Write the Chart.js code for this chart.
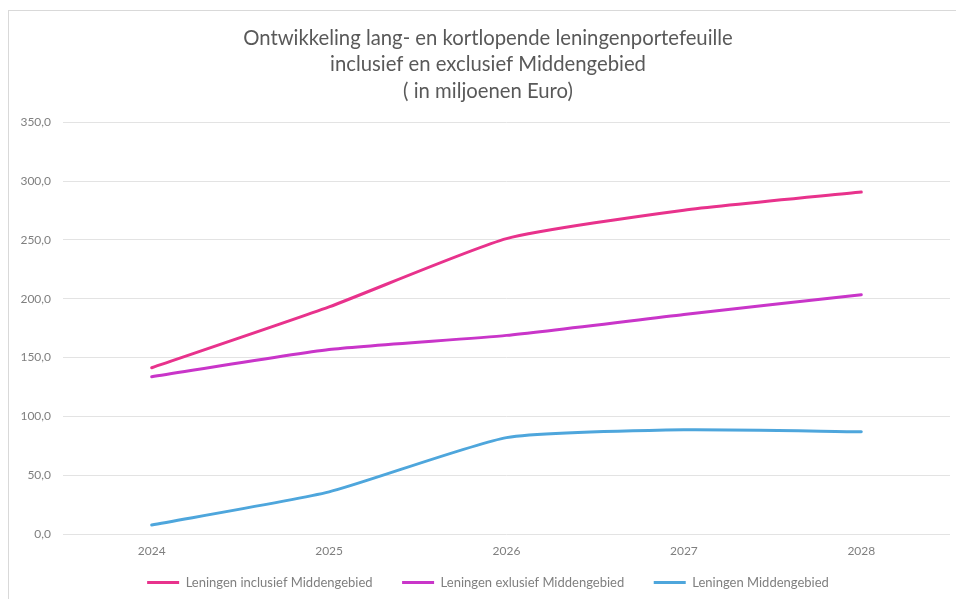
<!DOCTYPE html>
<html>
<head>
<meta charset="utf-8">
<script src="https://cdn.jsdelivr.net/npm/chart.js@4"></script>
<style>
    html, body { margin: 0; padding: 0; background: #fff; overflow: hidden; }
    #frame {
        position: absolute; left: 8px; top: 10px;
        width: 970px; height: 600px;
        border: 1px solid #d9d9d9;
    }
    #chart { display: block; }
</style>
</head>
<body>
<div id="frame"><canvas id="chart" width="958" height="588"></canvas></div>
<script>
    // Gegevens (in miljoenen Euro)
    const years = ['2024', '2025', '2026', '2027', '2028'];
    const inclusief = [141.3, 193.0, 251.0, 275.2, 290.6];
    const exclusief = [133.6, 156.8, 168.8, 186.6, 203.4];
    const middengebied = [7.7, 35.8, 81.9, 88.6, 86.9];
    const titleLines = [
        'Ontwikkeling lang- en kortlopende leningenportefeuille',
        'inclusief en exclusief Middengebied',
        '( in miljoenen Euro)'
    ];

    const textColor = '#7f7f7f';
    const gridColor = '#e3e3e3';
    const fontFamily = 'Lato, "Open Sans", sans-serif';

    const lineDataset = (label, data, color) => ({
        label,
        data,
        borderColor: color,
        backgroundColor: color,
        borderWidth: 3,
        pointRadius: 0,
        tension: 0.18,
        borderCapStyle: 'round',
        yAxisID: 'y'
    });

    const ctx = document.getElementById('chart').getContext('2d');
    new Chart(ctx, {
        type: 'line',
        data: {
            labels: years,
            datasets: [
                lineDataset('Leningen inclusief Middengebied', inclusief, '#e8328c'),
                lineDataset('Leningen exlusief Middengebied', exclusief, '#c935c9'),
                lineDataset('Leningen Middengebied', middengebied, '#4ea6dc')
            ]
        },
        options: {
            responsive: false,
            animation: false,
            layout: { padding: 0 },
            plugins: {
                title: {
                    display: true,
                    text: titleLines,
                    color: '#595959',
                    font: { family: fontFamily, size: 20.3, weight: 'normal', lineHeight: 1.3 },
                    padding: { top: 14, bottom: 18 }
                },
                legend: {
                    position: 'bottom',
                    labels: {
                        color: textColor,
                        font: { family: fontFamily, size: 13 },
                        usePointStyle: true,
                        pointStyle: 'line',
                        pointStyleWidth: 32,
                        padding: 10,
                        // extra ruimte tussen de items (em-spaties)
                        generateLabels: (chart) => {
                            const items = Chart.defaults.plugins.legend.labels.generateLabels(chart);
                            items.forEach((item, i) => {
                                if (i < items.length - 1) item.text += '\u2003\u2003';
                            });
                            return items;
                        }
                    }
                },
                tooltip: { enabled: false }
            },
            scales: {
                x: {
                    offset: true,
                    afterFit: (scale) => { scale.height = 32; },
                    grid: { display: false, drawTicks: false },
                    border: { display: false },
                    ticks: {
                        color: textColor,
                        font: { family: fontFamily, size: 12 },
                        padding: 10
                    }
                },
                y: {
                    min: 0,
                    max: 350,
                    afterFit: (scale) => { scale.width = 54; },
                    grid: { color: gridColor, lineWidth: 1, drawTicks: false },
                    border: { display: false },
                    ticks: {
                        stepSize: 50,
                        color: textColor,
                        padding: 12,
                        font: { family: fontFamily, size: 12 },
                        callback: (value) => value.toFixed(1).replace('.', ',')
                    }
                },
                // lege ruimte rechts van het plotgebied
                yRight: {
                    position: 'right',
                    afterFit: (scale) => { scale.width = 17; },
                    grid: { display: false, drawTicks: false },
                    border: { display: false },
                    ticks: { display: false }
                }
            }
        }
    });
</script>
</body>
</html>
